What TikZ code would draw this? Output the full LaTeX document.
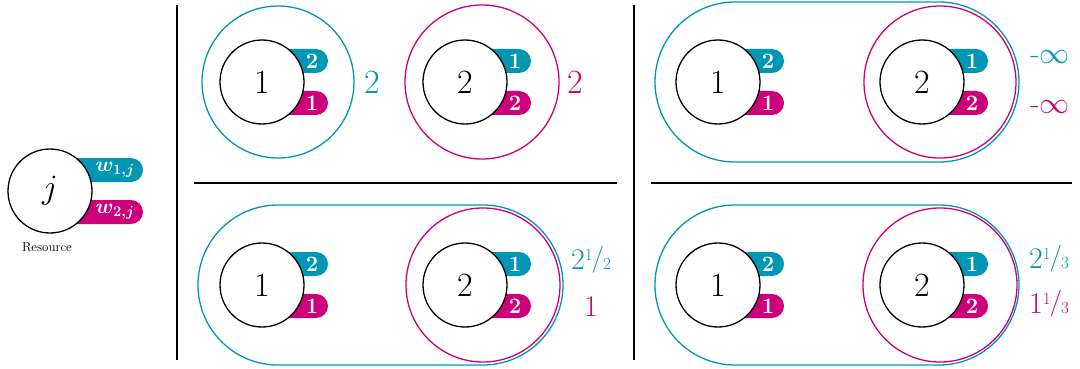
\RequirePackage{fix-cm}
\documentclass[tikz,border=0pt]{standalone}
\usepackage{bm}
\definecolor{cblue}{RGB}{0,150,180}
\definecolor{cmag}{RGB}{204,0,122}
\tikzset{
  resnode/.style={circle, draw=black, line width=1.3pt, fill=white, minimum size=84pt, inner sep=0pt, font=\fontsize{34}{40}\selectfont},
  tagshape/.style={rounded corners=12pt},
  tagtext/.style={text=white, font=\fontsize{22}{25}\selectfont\bfseries, inner sep=0pt},
  ring/.style={line width=1.3pt},
  sepline/.style={line width=1.4pt},
  biglab/.style={font=\fontsize{34}{40}\selectfont, inner sep=0pt},
  lab/.style={font=\fontsize{30}{34}\selectfont, inner sep=0pt},
}
\newcommand\myfrac[2]{\raisebox{0.31em}{\fontsize{17}{17}\selectfont #1}\kern-0.03em\raisebox{0.1em}{\fontsize{27}{27}\selectfont/}\kern-0.03em{\fontsize{17}{17}\selectfont #2}}
\newcommand\resource[6]{%
  \fill[cblue, tagshape] (#2+10,#3-33) rectangle (#2+66,#3-9);
  \fill[cmag, tagshape] (#2+10,#3+9) rectangle (#2+66,#3+33);
  \node[resnode] (#1) at (#2,#3) {#4};
  \node[tagtext] (#1t) at (#2+50,#3-21) {#5};
  \node[tagtext] (#1b) at (#2+50,#3+21) {#6};
}
\begin{document}
\begin{tikzpicture}[x=1pt,y=-1pt]
\useasboundingbox (0,0) rectangle (1080,369);
% legend
\fill[cblue, tagshape] (60,158) rectangle (143,182);
\fill[cmag, tagshape] (60,200) rectangle (143,224);
\node[resnode] (rj) at (50,191) {$j$};
\node[tagtext, font=\fontsize{21}{25}\selectfont] (rjt) at (115,170) {$\bm{w_{1,j}}$};
\node[tagtext, font=\fontsize{21}{25}\selectfont] (rjb) at (115,212) {$\bm{w_{2,j}}$};
\node[font=\fontsize{13}{15}\selectfont, inner sep=0pt] (reslab) at (47,247) {Resource};
% separators
\draw[sepline] (177,5) -- (177,360);
\draw[sepline] (634,5) -- (634,360);
\draw[sepline] (194,183) -- (617,183);
\draw[sepline] (651,183) -- (1072,183);
% top-left
\draw[cblue, ring] (278,82) circle[radius=76];
\draw[cmag, ring] (482,82) circle[radius=77];
\resource{a1}{262}{82}{1}{2}{1}
\resource{a2}{465}{82}{2}{1}{2}
\node[biglab, text=cblue] (la1) at (372,82) {2};
\node[biglab, text=cmag] (la2) at (575,82) {2};
% top-right
\draw[cblue, ring, rounded corners=80pt] (655,2) rectangle (1019,162);
\draw[cmag, ring] (940,82) circle[radius=76];
\resource{b1}{718}{82}{1}{2}{1}
\resource{b2}{922}{82}{2}{1}{2}
\node[lab, text=cblue] (lb1) at (1050,57) {-$\infty$};
\node[lab, text=cmag] (lb2) at (1050,107) {-$\infty$};
% bottom-left
\draw[cblue, ring, rounded corners=80pt] (198,205) rectangle (563,365);
\draw[cmag, ring] (483,285) circle[radius=77];
\resource{c1}{262}{285}{1}{2}{1}
\resource{c2}{465}{285}{2}{1}{2}
\node[lab, text=cblue] (lc1) at (591,260) {2\myfrac{1}{2}};
\node[lab, text=cmag] (lc2) at (591,307) {1};
% bottom-right
\draw[cblue, ring, rounded corners=80pt] (655,205) rectangle (1019,365);
\draw[cmag, ring] (940,285) circle[radius=77];
\resource{d1}{718}{285}{1}{2}{1}
\resource{d2}{922}{285}{2}{1}{2}
\node[lab, text=cblue] (ld1) at (1049,259) {2\myfrac{1}{3}};
\node[lab, text=cmag] (ld2) at (1049,304) {1\myfrac{1}{3}};
\end{tikzpicture}
\end{document}
